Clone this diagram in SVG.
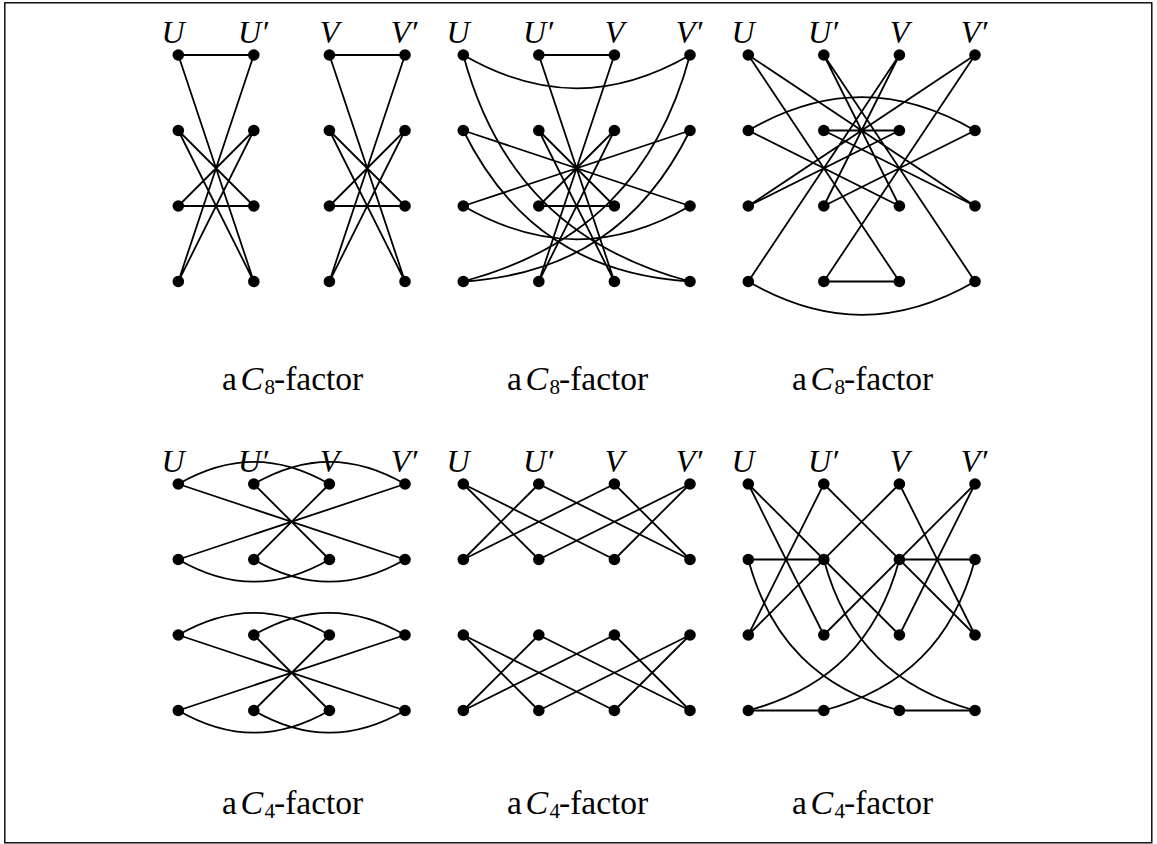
<svg xmlns="http://www.w3.org/2000/svg" width="1157" height="844" viewBox="0 0 1157 844">
<style>
.e{stroke:#000;stroke-width:1.8;fill:none}
.n{fill:#000}
.lab{font-family:"Liberation Serif",serif;font-style:italic;font-size:32px;fill:#000;text-anchor:middle}
.cap{font-family:"Liberation Serif",serif;font-size:33.5px;fill:#000}
.mi{font-style:italic;font-size:34px}
</style>
<rect x="4.8" y="2.8" width="1147" height="840" fill="#fff" stroke="#000" stroke-width="1.4"/>
<g id="connectors">
<path class="e" d="M178.3,55L253.8,55M178.3,55L253.8,281.5M253.8,55L178.3,281.5M178.3,130.5L253.8,206M178.3,130.5L253.8,281.5M253.8,130.5L178.3,206M253.8,130.5L178.3,281.5M178.3,206L253.8,206"/>
<path class="e" d="M329.4,55L405,55M329.4,55L405,281.5M405,55L329.4,281.5M329.4,130.5L405,206M329.4,130.5L405,281.5M405,130.5L329.4,206M405,130.5L329.4,281.5M329.4,206L405,206"/>
<path class="e" d="M538.8,55L614.4,55M538.8,55L614.4,281.5M614.4,55L538.8,281.5M538.8,130.5L614.4,206M538.8,130.5L614.4,281.5M614.4,130.5L538.8,206M614.4,130.5L538.8,281.5M538.8,206L614.4,206M463.3,130.5L690,206M690,130.5L463.3,206"/>
<path class="e" d="M463.3,55C540.2,99.4 613.2,99.4 690,55"/>
<path class="e" d="M463.3,206C540.2,250.4 613.2,250.4 690,206"/>
<path class="e" d="M463.3,55C495.8,176.2 568.8,249.1 690,281.5"/>
<path class="e" d="M463.3,130.5C510.6,226.1 583.6,274.7 690,281.5"/>
<path class="e" d="M690,55C657.5,176.2 584.5,249.1 463.3,281.5"/>
<path class="e" d="M690,130.5C642.7,226.1 569.7,274.7 463.3,281.5"/>
<path class="e" d="M748.3,55L975,206M748.3,55L899.4,281.5M823.8,55L899.4,206M823.8,55L975,281.5M899.4,55L823.8,206M899.4,55L748.3,281.5M975,55L748.3,206M975,55L823.8,281.5M748.3,130.5L899.4,206M975,130.5L823.8,206M823.8,130.5L975,206M899.4,130.5L748.3,206M823.8,130.5L899.4,130.5M823.8,281.5L899.4,281.5"/>
<path class="e" d="M748.3,130.5C825.2,86.1 898.2,86.1 975,130.5"/>
<path class="e" d="M748.3,281.5C825.2,325.9 898.2,325.9 975,281.5"/>
<path class="e" d="M178.3,484L405,559.5M405,484L178.3,559.5M253.8,484L329.4,559.5M329.4,484L253.8,559.5"/>
<path class="e" d="M178.3,484C229.5,454.4 278.2,454.4 329.4,484M253.8,484C305,454.4 353.8,454.4 405,484M178.3,559.5C229.5,589.1 278.2,589.1 329.4,559.5M253.8,559.5C305,589.1 353.8,589.1 405,559.5"/>
<path class="e" d="M178.3,635L405,710.5M405,635L178.3,710.5M253.8,635L329.4,710.5M329.4,635L253.8,710.5"/>
<path class="e" d="M178.3,635C229.5,605.4 278.2,605.4 329.4,635M253.8,635C305,605.4 353.8,605.4 405,635M178.3,710.5C229.5,740.1 278.2,740.1 329.4,710.5M253.8,710.5C305,740.1 353.8,740.1 405,710.5"/>
<path class="e" d="M463.3,484L538.8,559.5M463.3,484L614.4,559.5M538.8,484L463.3,559.5M538.8,484L690,559.5M614.4,484L463.3,559.5M614.4,484L690,559.5M690,484L538.8,559.5M690,484L614.4,559.5"/>
<path class="e" d="M463.3,635L538.8,710.5M463.3,635L614.4,710.5M538.8,635L463.3,710.5M538.8,635L690,710.5M614.4,635L463.3,710.5M614.4,635L690,710.5M690,635L538.8,710.5M690,635L614.4,710.5"/>
<path class="e" d="M748.3,484L823.8,635M748.3,484L899.4,635M823.8,484L748.3,635M823.8,484L975,635M899.4,484L748.3,635M899.4,484L975,635M975,484L899.4,635M975,484L823.8,635M748.3,559.5L823.8,559.5M899.4,559.5L975,559.5M748.3,710.5L823.8,710.5M899.4,710.5L975,710.5"/>
<path class="e" d="M748.3,559.5C770,640.3 818.6,688.9 899.4,710.5"/>
<path class="e" d="M823.8,559.5C845.5,640.3 894.2,688.9 975,710.5"/>
<path class="e" d="M899.4,559.5C877.7,640.3 829.1,688.9 748.3,710.5"/>
<path class="e" d="M975,559.5C953.3,640.3 904.7,688.9 823.8,710.5"/>
</g>
<g id="nodes">
<g id="p1-U1"><circle class="n" cx="178.3" cy="55" r="5.8"/></g>
<g id="p1-U2"><circle class="n" cx="178.3" cy="130.5" r="5.8"/></g>
<g id="p1-U3"><circle class="n" cx="178.3" cy="206" r="5.8"/></g>
<g id="p1-U4"><circle class="n" cx="178.3" cy="281.5" r="5.8"/></g>
<g id="p1-Up1"><circle class="n" cx="253.8" cy="55" r="5.8"/></g>
<g id="p1-Up2"><circle class="n" cx="253.8" cy="130.5" r="5.8"/></g>
<g id="p1-Up3"><circle class="n" cx="253.8" cy="206" r="5.8"/></g>
<g id="p1-Up4"><circle class="n" cx="253.8" cy="281.5" r="5.8"/></g>
<g id="p1-V1"><circle class="n" cx="329.4" cy="55" r="5.8"/></g>
<g id="p1-V2"><circle class="n" cx="329.4" cy="130.5" r="5.8"/></g>
<g id="p1-V3"><circle class="n" cx="329.4" cy="206" r="5.8"/></g>
<g id="p1-V4"><circle class="n" cx="329.4" cy="281.5" r="5.8"/></g>
<g id="p1-Vp1"><circle class="n" cx="405" cy="55" r="5.8"/></g>
<g id="p1-Vp2"><circle class="n" cx="405" cy="130.5" r="5.8"/></g>
<g id="p1-Vp3"><circle class="n" cx="405" cy="206" r="5.8"/></g>
<g id="p1-Vp4"><circle class="n" cx="405" cy="281.5" r="5.8"/></g>
<g id="p2-U1"><circle class="n" cx="463.3" cy="55" r="5.8"/></g>
<g id="p2-U2"><circle class="n" cx="463.3" cy="130.5" r="5.8"/></g>
<g id="p2-U3"><circle class="n" cx="463.3" cy="206" r="5.8"/></g>
<g id="p2-U4"><circle class="n" cx="463.3" cy="281.5" r="5.8"/></g>
<g id="p2-Up1"><circle class="n" cx="538.8" cy="55" r="5.8"/></g>
<g id="p2-Up2"><circle class="n" cx="538.8" cy="130.5" r="5.8"/></g>
<g id="p2-Up3"><circle class="n" cx="538.8" cy="206" r="5.8"/></g>
<g id="p2-Up4"><circle class="n" cx="538.8" cy="281.5" r="5.8"/></g>
<g id="p2-V1"><circle class="n" cx="614.4" cy="55" r="5.8"/></g>
<g id="p2-V2"><circle class="n" cx="614.4" cy="130.5" r="5.8"/></g>
<g id="p2-V3"><circle class="n" cx="614.4" cy="206" r="5.8"/></g>
<g id="p2-V4"><circle class="n" cx="614.4" cy="281.5" r="5.8"/></g>
<g id="p2-Vp1"><circle class="n" cx="690" cy="55" r="5.8"/></g>
<g id="p2-Vp2"><circle class="n" cx="690" cy="130.5" r="5.8"/></g>
<g id="p2-Vp3"><circle class="n" cx="690" cy="206" r="5.8"/></g>
<g id="p2-Vp4"><circle class="n" cx="690" cy="281.5" r="5.8"/></g>
<g id="p3-U1"><circle class="n" cx="748.3" cy="55" r="5.8"/></g>
<g id="p3-U2"><circle class="n" cx="748.3" cy="130.5" r="5.8"/></g>
<g id="p3-U3"><circle class="n" cx="748.3" cy="206" r="5.8"/></g>
<g id="p3-U4"><circle class="n" cx="748.3" cy="281.5" r="5.8"/></g>
<g id="p3-Up1"><circle class="n" cx="823.8" cy="55" r="5.8"/></g>
<g id="p3-Up2"><circle class="n" cx="823.8" cy="130.5" r="5.8"/></g>
<g id="p3-Up3"><circle class="n" cx="823.8" cy="206" r="5.8"/></g>
<g id="p3-Up4"><circle class="n" cx="823.8" cy="281.5" r="5.8"/></g>
<g id="p3-V1"><circle class="n" cx="899.4" cy="55" r="5.8"/></g>
<g id="p3-V2"><circle class="n" cx="899.4" cy="130.5" r="5.8"/></g>
<g id="p3-V3"><circle class="n" cx="899.4" cy="206" r="5.8"/></g>
<g id="p3-V4"><circle class="n" cx="899.4" cy="281.5" r="5.8"/></g>
<g id="p3-Vp1"><circle class="n" cx="975" cy="55" r="5.8"/></g>
<g id="p3-Vp2"><circle class="n" cx="975" cy="130.5" r="5.8"/></g>
<g id="p3-Vp3"><circle class="n" cx="975" cy="206" r="5.8"/></g>
<g id="p3-Vp4"><circle class="n" cx="975" cy="281.5" r="5.8"/></g>
<g id="p4-U1"><circle class="n" cx="178.3" cy="484" r="5.8"/></g>
<g id="p4-U2"><circle class="n" cx="178.3" cy="559.5" r="5.8"/></g>
<g id="p4-U3"><circle class="n" cx="178.3" cy="635" r="5.8"/></g>
<g id="p4-U4"><circle class="n" cx="178.3" cy="710.5" r="5.8"/></g>
<g id="p4-Up1"><circle class="n" cx="253.8" cy="484" r="5.8"/></g>
<g id="p4-Up2"><circle class="n" cx="253.8" cy="559.5" r="5.8"/></g>
<g id="p4-Up3"><circle class="n" cx="253.8" cy="635" r="5.8"/></g>
<g id="p4-Up4"><circle class="n" cx="253.8" cy="710.5" r="5.8"/></g>
<g id="p4-V1"><circle class="n" cx="329.4" cy="484" r="5.8"/></g>
<g id="p4-V2"><circle class="n" cx="329.4" cy="559.5" r="5.8"/></g>
<g id="p4-V3"><circle class="n" cx="329.4" cy="635" r="5.8"/></g>
<g id="p4-V4"><circle class="n" cx="329.4" cy="710.5" r="5.8"/></g>
<g id="p4-Vp1"><circle class="n" cx="405" cy="484" r="5.8"/></g>
<g id="p4-Vp2"><circle class="n" cx="405" cy="559.5" r="5.8"/></g>
<g id="p4-Vp3"><circle class="n" cx="405" cy="635" r="5.8"/></g>
<g id="p4-Vp4"><circle class="n" cx="405" cy="710.5" r="5.8"/></g>
<g id="p5-U1"><circle class="n" cx="463.3" cy="484" r="5.8"/></g>
<g id="p5-U2"><circle class="n" cx="463.3" cy="559.5" r="5.8"/></g>
<g id="p5-U3"><circle class="n" cx="463.3" cy="635" r="5.8"/></g>
<g id="p5-U4"><circle class="n" cx="463.3" cy="710.5" r="5.8"/></g>
<g id="p5-Up1"><circle class="n" cx="538.8" cy="484" r="5.8"/></g>
<g id="p5-Up2"><circle class="n" cx="538.8" cy="559.5" r="5.8"/></g>
<g id="p5-Up3"><circle class="n" cx="538.8" cy="635" r="5.8"/></g>
<g id="p5-Up4"><circle class="n" cx="538.8" cy="710.5" r="5.8"/></g>
<g id="p5-V1"><circle class="n" cx="614.4" cy="484" r="5.8"/></g>
<g id="p5-V2"><circle class="n" cx="614.4" cy="559.5" r="5.8"/></g>
<g id="p5-V3"><circle class="n" cx="614.4" cy="635" r="5.8"/></g>
<g id="p5-V4"><circle class="n" cx="614.4" cy="710.5" r="5.8"/></g>
<g id="p5-Vp1"><circle class="n" cx="690" cy="484" r="5.8"/></g>
<g id="p5-Vp2"><circle class="n" cx="690" cy="559.5" r="5.8"/></g>
<g id="p5-Vp3"><circle class="n" cx="690" cy="635" r="5.8"/></g>
<g id="p5-Vp4"><circle class="n" cx="690" cy="710.5" r="5.8"/></g>
<g id="p6-U1"><circle class="n" cx="748.3" cy="484" r="5.8"/></g>
<g id="p6-U2"><circle class="n" cx="748.3" cy="559.5" r="5.8"/></g>
<g id="p6-U3"><circle class="n" cx="748.3" cy="635" r="5.8"/></g>
<g id="p6-U4"><circle class="n" cx="748.3" cy="710.5" r="5.8"/></g>
<g id="p6-Up1"><circle class="n" cx="823.8" cy="484" r="5.8"/></g>
<g id="p6-Up2"><circle class="n" cx="823.8" cy="559.5" r="5.8"/></g>
<g id="p6-Up3"><circle class="n" cx="823.8" cy="635" r="5.8"/></g>
<g id="p6-Up4"><circle class="n" cx="823.8" cy="710.5" r="5.8"/></g>
<g id="p6-V1"><circle class="n" cx="899.4" cy="484" r="5.8"/></g>
<g id="p6-V2"><circle class="n" cx="899.4" cy="559.5" r="5.8"/></g>
<g id="p6-V3"><circle class="n" cx="899.4" cy="635" r="5.8"/></g>
<g id="p6-V4"><circle class="n" cx="899.4" cy="710.5" r="5.8"/></g>
<g id="p6-Vp1"><circle class="n" cx="975" cy="484" r="5.8"/></g>
<g id="p6-Vp2"><circle class="n" cx="975" cy="559.5" r="5.8"/></g>
<g id="p6-Vp3"><circle class="n" cx="975" cy="635" r="5.8"/></g>
<g id="p6-Vp4"><circle class="n" cx="975" cy="710.5" r="5.8"/></g>
</g>
<g id="labels">
<text class="lab" x="173" y="43">U</text><text class="lab" x="253" y="43">U′</text><text class="lab" x="329.4" y="43">V</text><text class="lab" x="404" y="43">V′</text>
<text class="lab" x="458" y="43">U</text><text class="lab" x="538" y="43">U′</text><text class="lab" x="614.4" y="43">V</text><text class="lab" x="689" y="43">V′</text>
<text class="lab" x="743" y="43">U</text><text class="lab" x="823" y="43">U′</text><text class="lab" x="899.4" y="43">V</text><text class="lab" x="974" y="43">V′</text>
<text class="lab" x="173" y="471.5">U</text><text class="lab" x="253" y="471.5">U′</text><text class="lab" x="329.4" y="471.5">V</text><text class="lab" x="404" y="471.5">V′</text>
<text class="lab" x="458" y="471.5">U</text><text class="lab" x="538" y="471.5">U′</text><text class="lab" x="614.4" y="471.5">V</text><text class="lab" x="689" y="471.5">V′</text>
<text class="lab" x="743" y="471.5">U</text><text class="lab" x="823" y="471.5">U′</text><text class="lab" x="899.4" y="471.5">V</text><text class="lab" x="974" y="471.5">V′</text>
</g>
<g id="captions">
<text class="cap" y="390"><tspan x="222">a</tspan><tspan x="240.5" class="mi">C</tspan><tspan x="264.5" y="393.5" font-size="21">8</tspan><tspan x="274" y="390">-factor</tspan></text>
<text class="cap" y="390"><tspan x="507">a</tspan><tspan x="525.5" class="mi">C</tspan><tspan x="549.5" y="393.5" font-size="21">8</tspan><tspan x="559" y="390">-factor</tspan></text>
<text class="cap" y="390"><tspan x="792">a</tspan><tspan x="810.5" class="mi">C</tspan><tspan x="834.5" y="393.5" font-size="21">8</tspan><tspan x="844" y="390">-factor</tspan></text>
<text class="cap" y="814"><tspan x="222">a</tspan><tspan x="240.5" class="mi">C</tspan><tspan x="264.5" y="817.5" font-size="21">4</tspan><tspan x="274" y="814">-factor</tspan></text>
<text class="cap" y="814"><tspan x="507">a</tspan><tspan x="525.5" class="mi">C</tspan><tspan x="549.5" y="817.5" font-size="21">4</tspan><tspan x="559" y="814">-factor</tspan></text>
<text class="cap" y="814"><tspan x="792">a</tspan><tspan x="810.5" class="mi">C</tspan><tspan x="834.5" y="817.5" font-size="21">4</tspan><tspan x="844" y="814">-factor</tspan></text>
</g>
</svg>
